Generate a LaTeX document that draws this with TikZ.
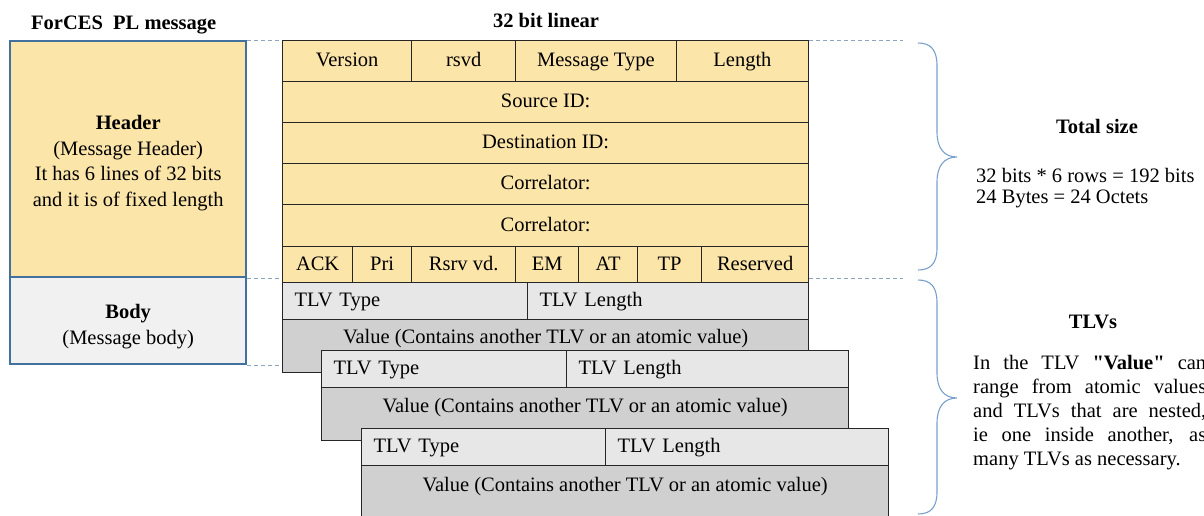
\documentclass[tikz,border=0pt]{standalone}
\usepackage{fontspec}
\setmainfont{Liberation Serif}[Ligatures=TeXOff]
\definecolor{hdrfill}{HTML}{FCE5A9}
\definecolor{bodyfill}{HTML}{F1F1F1}
\definecolor{typefill}{HTML}{E7E7E7}
\definecolor{valfill}{HTML}{D0D0D0}
\definecolor{cellline}{HTML}{262626}
\definecolor{boxblue}{HTML}{41719C}
\definecolor{dashblue}{HTML}{8EA4BF}
\definecolor{braceblue}{HTML}{7A9FCC}
\begin{document}
\begin{tikzpicture}[x=1pt,y=-1pt,
  txt/.style={font=\fontsize{20.5}{24}\selectfont, inner sep=0pt, text=black},
  side/.style={draw=boxblue, line width=2.4pt, anchor=north west, inner sep=0pt},
  sidetext/.style={txt, align=center, font=\fontsize{20.5}{25.5}\selectfont},
  cellbase/.style={txt, draw=cellline, line width=1.3pt, anchor=north west, text height=15pt, text depth=4pt},
  hcell/.style={cellbase, fill=hdrfill},
  tcell/.style={cellbase, fill=typefill, align=left, inner xsep=12pt, minimum height=37pt},
  vcell/.style={cellbase, fill=valfill},
  dashln/.style={draw=dashblue, line width=0.9pt, dash pattern=on 4pt off 3pt},
  bracepath/.style={draw=braceblue, line width=1.1pt},
  headfont/.style={font=\bfseries\fontsize{20.5}{24}\selectfont}
]
\useasboundingbox (0,0) rectangle (1204,516);
\clip (0,0) rectangle (1204,516);

% titles
\node[txt, anchor=west, headfont] (title) at (31,25) {ForCES\ \ PL message};
\node[txt, headfont] (lin) at (546,20) {32 bit linear};

% left overview box
\node[side, fill=hdrfill, minimum width=236pt, minimum height=236pt] (hdr) at (9,40) {};
\node[side, fill=bodyfill, minimum width=236pt, minimum height=87pt] (body) at (9,276) {};
\node[sidetext] (hdrtxt) at ([yshift=-4pt]hdr.center)
  {\textbf{Header}\\(Message Header)\\It has 6 lines of 32 bits\\and it is of fixed length};
\node[sidetext] (bodytxt) at ([yshift=-6pt]body.center) {\textbf{Body}\\(Message body)};

% header words, 32 bits per row
\node[hcell, minimum width=129pt, minimum height=41pt] (ver) at (282,40) {Version};
\node[hcell, minimum width=104pt, minimum height=41pt] (rsvd) at (411,40) {rsvd};
\node[hcell, minimum width=160.5pt, minimum height=41pt] (mtype) at (515,40) {Message Type};
\node[hcell, minimum width=132.5pt, minimum height=41pt] (len) at (675.5,40) {Length};
\node[hcell, minimum width=526pt, minimum height=41pt] (src) at (282,81) {Source ID:};
\node[hcell, minimum width=526pt, minimum height=41pt] (dst) at (282,122) {Destination ID:};
\node[hcell, minimum width=526pt, minimum height=41pt] (cor1) at (282,163) {Correlator:};
\node[hcell, minimum width=526pt, minimum height=42pt] (cor2) at (282,204) {Correlator:};
\node[hcell, minimum width=70pt, minimum height=36pt] (ack) at (282,246) {ACK};
\node[hcell, minimum width=59pt, minimum height=36pt] (pri) at (352,246) {Pri};
\node[hcell, minimum width=104pt, minimum height=36pt] (rsrv) at (411,246) {Rsrv vd.};
\node[hcell, minimum width=63pt, minimum height=36pt] (em) at (515,246) {EM};
\node[hcell, minimum width=59pt, minimum height=36pt] (at) at (578,246) {AT};
\node[hcell, minimum width=64pt, minimum height=36pt] (tp) at (637,246) {TP};
\node[hcell, minimum width=107pt, minimum height=36pt] (res) at (701,246) {Reserved};

% nested TLVs
\node[tcell, text width=221pt] (t1) at (282,282) {TLV Type};
\node[tcell, text width=257pt] (l1) at (527,282) {TLV Length};
\node[vcell, minimum width=526pt, minimum height=53pt] (v1) at (282,319) {};
\node[txt] (v1txt) at ([yshift=-20pt]v1.north) {Value (Contains another TLV or an atomic value)};

\node[tcell, text width=221pt] (t2) at (321,350) {TLV Type};
\node[tcell, text width=258pt] (l2) at (566,350) {TLV Length};
\node[vcell, minimum width=527pt, minimum height=53pt] (v2) at (321,387) {};
\node[txt] (v2txt) at ([yshift=-21pt]v2.north) {Value (Contains another TLV or an atomic value)};

\node[tcell, text width=220pt] (t3) at (361,428) {TLV Type};
\node[tcell, text width=259pt] (l3) at (605,428) {TLV Length};
\node[vcell, minimum width=527pt, minimum height=80pt] (v3) at (361,465) {};
\node[txt] (v3txt) at ([yshift=-22pt]v3.north) {Value (Contains another TLV or an atomic value)};

% dashed guide lines
\coordinate (rdTop) at (903,40);
\coordinate (rdMid) at (hdr.south -| rdTop);
\draw[dashln] (hdr.north east) -- (ver.north west);
\draw[dashln] (hdr.south east) -- (hdr.south east -| ack.west);
\draw[dashln] (body.south east) -- (body.south east -| v1.west);
\draw[dashln] (len.north east) -- (rdTop);
\draw[dashln] (res.east |- rdMid) -- (rdMid);

% braces
\coordinate (b1a) at (918,43);
\coordinate (b1tip) at (957,157);
\coordinate (b1b) at (918,270);
\draw[bracepath] (b1a) .. controls (931,43) and (937,50) .. (937,66)
  -- (937,132) .. controls (937,148) and (944,157) .. (b1tip)
  .. controls (944,157) and (937,166) .. (937,182)
  -- (937,248) .. controls (937,263) and (931,270) .. (b1b);
\coordinate (b2a) at (918,280);
\coordinate (b2tip) at (957,398);
\coordinate (b2b) at (918,514);
\draw[bracepath] (b2a) .. controls (931,280) and (937,287) .. (937,303)
  -- (937,373) .. controls (937,389) and (944,398) .. (b2tip)
  .. controls (944,398) and (937,407) .. (937,423)
  -- (937,492) .. controls (937,507) and (931,514) .. (b2b);

% notes on the right
\node[txt, headfont] (tot) at (1097,126) {Total size};
\node[txt, anchor=west] (bits) at (976,175) {32 bits * 6 rows = 192 bits};
\node[txt, anchor=west] (bytes) at (976,199) {24 Bytes = 24 Octets};
\node[txt, headfont] (tlvs) at (1093,322) {TLVs};
\node[txt, anchor=north west, text width=233pt, align=justify] (note) at (973,355)
  {In the TLV \textbf{"Value"} can\linebreak range from atomic values\linebreak and TLVs that are nested,\linebreak ie one inside another, as\linebreak many TLVs as necessary.};
\end{tikzpicture}
\end{document}
